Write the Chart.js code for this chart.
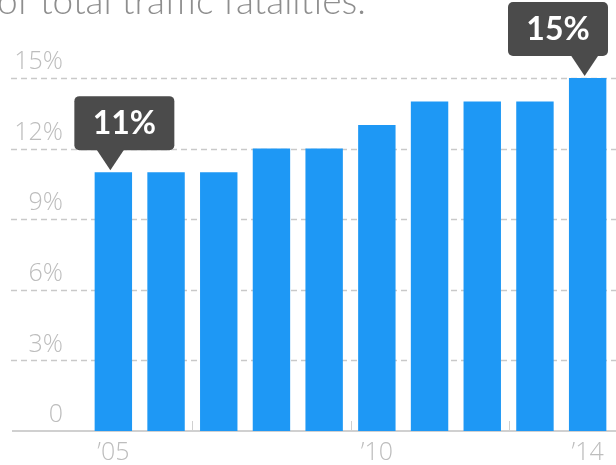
<!DOCTYPE html>
<html>
<head>
<meta charset="utf-8">
<script src="https://cdn.jsdelivr.net/npm/chart.js@4/dist/chart.umd.min.js"></script>
<style>
    html, body { margin: 0; padding: 0; background: #fff; overflow: hidden; }
    #wrap { width: 616px; height: 465px; position: relative; }
</style>
</head>
<body>
<div id="wrap"><canvas id="share-chart"></canvas></div>
<script>
// Data
const yearLabels = ['\u201905', '\u201906', '\u201907', '\u201908', '\u201909', '\u201910', '\u201911', '\u201912', '\u201913', '\u201914'];
const shownLabels = ['\u201905', '\u201910', '\u201914'];
const shareValues = [11, 11, 11, 12, 12, 13, 14, 14, 14, 15];
const yTickStep = 3;
const yMax = 15;
const calloutIndex = [0, 9];
const titleText = 'of total traffic fatalities.';

// dashed grid, baseline and small ticks
const gridLines = {
    id: 'gridLines',
    beforeDatasetsDraw(chart) {
        const { ctx, scales: { x, y } } = chart;
        ctx.save();
        ctx.strokeStyle = '#c9c9c9';
        ctx.lineWidth = 1.3;
        ctx.setLineDash([6, 4]);
        y.ticks.forEach(t => {
            if (t.value === 0) return;
            const py = Math.round(y.getPixelForValue(t.value)) + 0.5;
            ctx.beginPath();
            ctx.moveTo(11, py);
            ctx.lineTo(chart.width, py);
            ctx.stroke();
        });
        ctx.setLineDash([]);
        ctx.strokeStyle = '#d0d0d0';
        ctx.lineWidth = 2;
        const by = y.getPixelForValue(0);
        ctx.beginPath();
        ctx.moveTo(12, by);
        ctx.lineTo(chart.width, by);
        ctx.stroke();
        ctx.lineWidth = 1;
        [1, 4, 7].forEach(i => {
            const px = Math.round((x.getPixelForValue(i) + x.getPixelForValue(i + 1)) / 2) + 0.5;
            ctx.beginPath();
            ctx.moveTo(px, by - 10);
            ctx.lineTo(px, by);
            ctx.stroke();
        });
        ctx.restore();
    }
};

// dark label boxes over first and last bar
const callouts = {
    id: 'callouts',
    afterDatasetsDraw(chart) {
        const { ctx } = chart;
        const bars = chart.getDatasetMeta(0).data;
        ctx.save();
        calloutIndex.forEach(i => {
            const bar = bars[i];
            const w = 100, h = 54;
            let left = bar.x - 39;
            if (left + w > chart.width - 8) left = chart.width - 8 - w;
            const bottom = bar.y - 22;
            const top = bottom - h;
            const tip = bar.x - 3;
            ctx.fillStyle = '#4b4b4b';
            ctx.beginPath();
            ctx.roundRect(left, top, w, h, 5);
            ctx.fill();
            ctx.beginPath();
            ctx.moveTo(tip - 14, bottom - 1);
            ctx.lineTo(tip + 14, bottom - 1);
            ctx.lineTo(tip, bar.y - 2);
            ctx.closePath();
            ctx.fill();
            ctx.fillStyle = '#ffffff';
            ctx.font = 'bold 32px Lato';
            ctx.textAlign = 'center';
            ctx.textBaseline = 'middle';
            ctx.fillText(shareValues[i] + '%', left + w / 2, top + h / 2 + 1);
        });
        ctx.restore();
    }
};

// cut-off headline at the top
const headline = {
    id: 'headline',
    afterDraw(chart) {
        const { ctx } = chart;
        ctx.save();
        ctx.fillStyle = '#8e8e8e';
        ctx.font = '300 37px Lato';
        ctx.textAlign = 'left';
        ctx.textBaseline = 'alphabetic';
        ctx.fillText(titleText, -3, 14);
        ctx.restore();
    }
};

const tickFont = { family: 'Open Sans', size: 25, weight: 300 };

const ctxShare = document.getElementById('share-chart').getContext('2d');
new Chart(ctxShare, {
    type: 'bar',
    data: {
        labels: yearLabels,
        datasets: [{
            data: shareValues,
            backgroundColor: '#1e98f5',
            borderWidth: 0,
            barPercentage: 0.71,
            categoryPercentage: 1
        }]
    },
    options: {
        responsive: true,
        maintainAspectRatio: false,
        animation: false,
        layout: { autoPadding: false, padding: { top: 78, right: 2, left: 0, bottom: 0 } },
        plugins: {
            legend: { display: false },
            tooltip: { enabled: false }
        },
        scales: {
            x: {
                grid: { display: false, drawTicks: false },
                border: { display: false },
                ticks: {
                    autoSkip: false,
                    maxRotation: 0,
                    color: '#bdbdbd',
                    font: tickFont,
                    padding: 7,
                    callback(v) {
                        const l = this.getLabelForValue(v);
                        return shownLabels.includes(l) ? l : '';
                    }
                },
                afterFit(s) { s.height = 34; }
            },
            y: {
                min: 0,
                max: yMax,
                grid: { display: false, drawTicks: false },
                border: { display: false },
                ticks: {
                    stepSize: yTickStep,
                    color: '#bdbdbd',
                    font: { family: 'Open Sans', size: 25, weight: 300, lineHeight: 0.4 },
                    padding: 24,
                    labelOffset: -16,
                    callback: v => v === 0 ? '0' : v + '%'
                },
                afterFit(s) { s.width = 87; }
            }
        }
    },
    plugins: [gridLines, callouts, headline]
});
</script>
</body>
</html>
